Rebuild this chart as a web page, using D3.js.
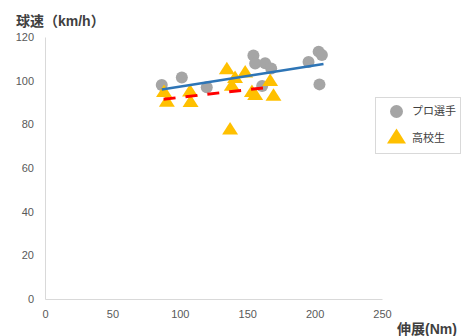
<!DOCTYPE html>
<html><head><meta charset="utf-8">
<script src="https://cdn.jsdelivr.net/npm/d3@7"></script>
<style>body{margin:0;background:#fff}svg text{font-family:"Liberation Sans","Noto Sans CJK JP",sans-serif}</style>
</head><body><svg id="c" width="463" height="336"></svg>
<script>
const xTicks = [0, 50, 100, 150, 200, 250];
const yTicks = [0, 20, 40, 60, 80, 100, 120];
const seriesNames = ["プロ選手", "高校生"];
const proX = [86.6, 101.5, 120.0, 154.6, 155.9, 163.3, 167.8, 161.1, 195.5, 203.0, 205.4, 203.6];
const proY = [98.0, 101.5, 97.0, 111.5, 107.9, 108.0, 105.6, 97.6, 108.6, 113.3, 111.8, 98.3];
const hsX = [88.3, 90.4, 107.6, 108.0, 134.9, 137.3, 141.0, 138.6, 148.5, 153.5, 155.9, 167.0, 169.5];
const hsY = [94.4, 90.0, 94.6, 89.8, 104.9, 77.2, 100.8, 97.3, 103.4, 94.4, 93.1, 99.5, 92.7];
const proTrendX = [86.6, 206.6];
const proTrendY = [96.0, 107.6];
const hsTrendX = [88.0, 169.0];
const hsTrendY = [91.5, 97.2];

const svg = d3.select("#c");
const L = 45, R = 382, T = 37, B = 299;
const x = d3.scaleLinear().domain([0, 250]).range([L, R]);
const y = d3.scaleLinear().domain([0, 120]).range([B, T]);

const xAxis = svg.append("g").attr("transform", `translate(0,${B})`)
  .call(d3.axisBottom(x).tickValues(xTicks).tickSize(0).tickPadding(11));
const yAxis = svg.append("g").attr("transform", `translate(${L},0)`)
  .call(d3.axisLeft(y).tickValues(yTicks).tickSize(0).tickPadding(11));
[xAxis, yAxis].forEach(a => {
  a.select(".domain").attr("stroke", "#d9d9d9").attr("stroke-width", 1);
  a.selectAll("text").attr("fill", "#595959").style("font-size", "11px");
});

const pro = proX.map((v, i) => [v, proY[i]]);
const hs = hsX.map((v, i) => [v, hsY[i]]);
const tri = d3.symbol().type(d3.symbolTriangle).size(100);

svg.append("g").selectAll("circle").data(pro).join("circle")
  .attr("cx", d => x(d[0])).attr("cy", d => y(d[1])).attr("r", 6).attr("fill", "#a5a5a5");
svg.append("g").selectAll("path").data(hs).join("path")
  .attr("d", tri).attr("transform", d => `translate(${x(d[0])},${y(d[1])}) scale(1.05,0.95)`).attr("fill", "#ffc000");

const line = d3.line().x(d => x(d[0])).y(d => y(d[1]));
svg.append("path").attr("d", line(proTrendX.map((v, i) => [v, proTrendY[i]])))
  .attr("stroke", "#2e75b6").attr("stroke-width", 2.5).attr("fill", "none");
svg.append("path").attr("d", line(hsTrendX.map((v, i) => [v, hsTrendY[i]])))
  .attr("stroke", "#ff0000").attr("stroke-width", 3).attr("stroke-dasharray", "12,10").attr("fill", "none");

svg.append("text").attr("x", 16).attr("y", 26).attr("fill", "#404040")
  .style("font-size", "14px").style("font-weight", "bold").text("球速（km/h）");
svg.append("text").attr("x", 397).attr("y", 334).attr("fill", "#404040")
  .style("font-size", "14px").style("font-weight", "bold").text("伸展(Nm)");

const lg = svg.append("g");
lg.append("rect").attr("x", 375.5).attr("y", 97.5).attr("width", 85).attr("height", 56)
  .attr("fill", "#fff").attr("stroke", "#d9d9d9");
lg.append("circle").attr("cx", 396.5).attr("cy", 111.5).attr("r", 6.5).attr("fill", "#a5a5a5");
lg.append("path").attr("d", tri).attr("transform", "translate(396.5,138.5) scale(1.25,1.15)").attr("fill", "#ffc000");
lg.selectAll("text.l").data(seriesNames).join("text").attr("class", "l")
  .attr("x", 412).attr("y", (d, i) => 111.5 + i * 27).attr("dy", "0.35em")
  .attr("fill", "#404040").style("font-size", "11px").text(d => d);
</script></body></html>
